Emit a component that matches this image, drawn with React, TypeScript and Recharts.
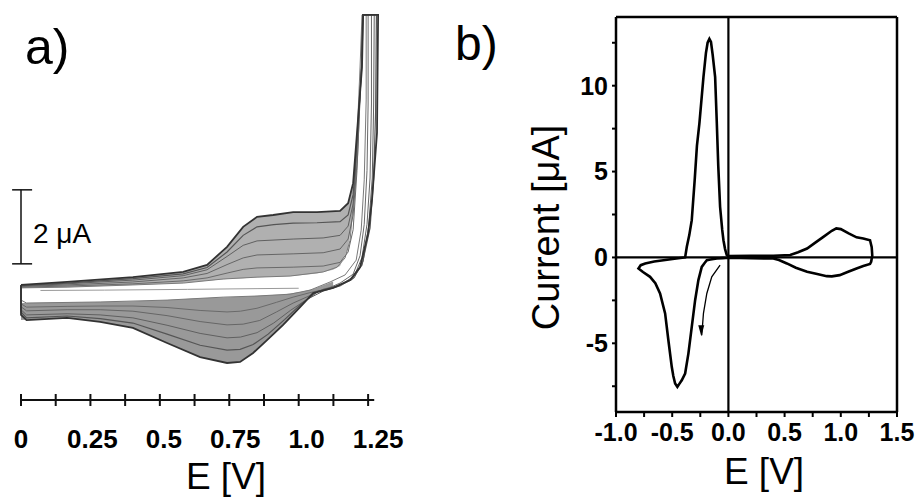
import { ComposedChart, Line, Area, XAxis, YAxis, ReferenceLine } from 'recharts';

const FONT = '"Liberation Sans", Arial, sans-serif';

// ---- panel a: repeated cycles, E [V] vs I [uA] (offset scale, 2 uA bar) ----
// each cycle: anodic sweep 0 -> vertex, then return to 0
const cycle1 = [
  [0, 0.03], [0.166, 0.05], [0.403, 0.11], [0.584, 0.16], [0.728, 0.27], [0.85, 0.32], [0.969, 0.35],
  [1.088, 0.46], [1.138, 0.59], [1.167, 0.84], [1.185, 1.32], [1.203, 2.86], [1.221, 6.0], [1.228, 7.41],
  [1.243, 7.41], [1.243, 5.11], [1.236, 2.95], [1.225, 1.59], [1.207, 0.78], [1.167, 0.38], [1.113, 0.19],
  [1.041, -0.03], [0.969, -0.14], [0.85, -0.19], [0.728, -0.22], [0.526, -0.3], [0.285, -0.35], [0.02, -0.38],
  [0, -0.3], [0, 0.03],
];
const cycle2 = [
  [0, 0.05], [0.166, 0.08], [0.403, 0.14], [0.584, 0.22], [0.67, 0.3], [0.742, 0.43], [0.8, 0.53], [0.85, 0.57],
  [0.98, 0.59], [1.088, 0.62], [1.149, 0.72], [1.178, 1.0], [1.196, 1.6], [1.21, 3.2], [1.225, 6.0], [1.23, 7.41],
  [1.25, 7.41], [1.25, 5.0], [1.246, 3.2], [1.236, 1.75], [1.221, 0.9], [1.196, 0.4], [1.149, 0.16], [1.1, 0.0],
  [1.04, -0.1], [0.98, -0.22], [0.92, -0.36], [0.85, -0.52], [0.79, -0.6], [0.742, -0.62], [0.645, -0.58],
  [0.526, -0.5], [0.403, -0.46], [0.285, -0.46], [0.166, -0.47], [0.02, -0.49], [0, -0.4], [0, 0.05],
];
const cycle3 = [
  [0, 0.07], [0.166, 0.11], [0.403, 0.19], [0.584, 0.3], [0.67, 0.42], [0.742, 0.66], [0.8, 0.84], [0.85, 0.92],
  [0.98, 0.95], [1.088, 0.98], [1.149, 1.08], [1.178, 1.35], [1.196, 2.0], [1.212, 3.6], [1.226, 6.0], [1.231, 7.41],
  [1.262, 7.41], [1.262, 5.0], [1.257, 3.0], [1.246, 1.75], [1.228, 0.85], [1.2, 0.35], [1.149, 0.1], [1.09, 0.0],
  [1.04, -0.18], [0.98, -0.38], [0.92, -0.62], [0.86, -0.85], [0.8, -0.95], [0.742, -0.97], [0.645, -0.88],
  [0.526, -0.72], [0.403, -0.6], [0.285, -0.56], [0.166, -0.56], [0.02, -0.59], [0, -0.48], [0, 0.07],
];
const cycle4 = [
  [0, 0.08], [0.166, 0.14], [0.403, 0.24], [0.584, 0.36], [0.67, 0.52], [0.742, 0.88], [0.8, 1.18], [0.85, 1.3],
  [0.98, 1.35], [1.088, 1.38], [1.149, 1.45], [1.178, 1.7], [1.196, 2.3], [1.21, 3.8], [1.226, 6.0], [1.231, 7.41],
  [1.272, 7.41], [1.27, 5.0], [1.265, 3.0], [1.252, 1.7], [1.232, 0.75], [1.2, 0.3], [1.149, 0.08], [1.09, -0.05],
  [1.03, -0.28], [0.97, -0.58], [0.91, -0.92], [0.85, -1.18], [0.79, -1.3], [0.742, -1.32], [0.645, -1.2],
  [0.526, -0.98], [0.403, -0.78], [0.285, -0.7], [0.166, -0.67], [0.02, -0.7], [0, -0.56], [0, 0.08],
];
const cycle5 = [
  [0, 0.09], [0.166, 0.16], [0.403, 0.28], [0.584, 0.41], [0.67, 0.58], [0.742, 1.0], [0.8, 1.45], [0.85, 1.68],
  [0.91, 1.74], [0.98, 1.78], [1.066, 1.79], [1.149, 1.82], [1.178, 2.0], [1.196, 2.55], [1.21, 4.0], [1.227, 6.0],
  [1.232, 7.41], [1.28, 7.41], [1.277, 4.8], [1.27, 3.0], [1.257, 1.65], [1.228, 0.65], [1.19, 0.25], [1.13, 0.05],
  [1.07, -0.06], [1.01, -0.4], [0.95, -0.82], [0.89, -1.22], [0.836, -1.5], [0.789, -1.63], [0.742, -1.65],
  [0.645, -1.52], [0.526, -1.22], [0.403, -0.92], [0.285, -0.8], [0.166, -0.73], [0.02, -0.78], [0, -0.62],
  [0, 0.09],
];
const cycle6 = [
  [0, 0.11], [0.166, 0.19], [0.403, 0.32], [0.584, 0.46], [0.67, 0.65], [0.742, 1.14], [0.8, 1.68], [0.85, 1.95],
  [0.908, 2.0], [0.98, 2.08], [1.066, 2.08], [1.149, 2.11], [1.178, 2.32], [1.196, 2.86], [1.21, 4.22], [1.228, 6.0],
  [1.232, 7.41], [1.286, 7.41], [1.282, 4.22], [1.264, 2.41], [1.25, 1.51], [1.221, 0.59], [1.185, 0.24],
  [1.124, 0.03], [1.052, -0.11], [1.005, -0.49], [0.944, -0.97], [0.886, -1.38], [0.836, -1.73], [0.789, -1.97],
  [0.742, -2.0], [0.645, -1.84], [0.526, -1.46], [0.403, -1.05], [0.285, -0.89], [0.166, -0.78], [0.02, -0.84],
  [0, -0.7], [0, 0.11],
];
const firstScan = [[0.07, -0.04], [0.3, -0.03], [0.6, -0.01], [0.85, 0.01], [1.0, 0.02]];

// grey bands between first and last cycle: [E, low, high]
const anodicBand = [
  [0, 0.03, 0.11], [0.166, 0.05, 0.19], [0.403, 0.11, 0.32], [0.584, 0.16, 0.46], [0.67, 0.22, 0.65],
  [0.742, 0.27, 1.14], [0.8, 0.29, 1.68], [0.85, 0.32, 1.95], [0.908, 0.33, 2.0], [0.98, 0.35, 2.08],
  [1.066, 0.42, 2.08], [1.124, 0.52, 2.1], [1.149, 0.62, 2.11], [1.178, 1.1, 2.32], [1.196, 2.2, 2.86],
];
const cathodicBand = [
  [0, -0.84, -0.38], [0.166, -0.78, -0.36], [0.285, -0.89, -0.35], [0.403, -1.05, -0.33], [0.526, -1.46, -0.3],
  [0.645, -1.84, -0.25], [0.742, -2.0, -0.22], [0.789, -1.97, -0.21], [0.836, -1.73, -0.19], [0.886, -1.38, -0.17],
  [0.944, -0.97, -0.15], [1.005, -0.49, -0.08], [1.052, -0.11, 0.0], [1.124, 0.03, 0.2],
];

const aTicks = [0, 0.125, 0.25, 0.375, 0.5, 0.625, 0.75, 0.875, 1.0, 1.125, 1.25];
const aTickLabels: Record<string, string> = { '0': '0', '0.25': '0.25', '0.5': '0.5', '0.75': '0.75', '1': '1.0', '1.25': '1.25' };
const scaleBar = { x: 0, from: 0.68, to: 2.68 };

// ---- panel b: single CV, starts at 0 V towards negative potentials ----
const cvLoop = [
  [0.0, -0.02], [-0.05, -0.04], [-0.103, -0.06], [-0.16, -0.12], [-0.192, -0.16], [-0.215, -0.35], [-0.237, -0.55],
  [-0.267, -1.32], [-0.296, -2.49], [-0.326, -4.04], [-0.356, -5.6], [-0.385, -6.76], [-0.415, -7.15],
  [-0.435, -7.35], [-0.454, -7.54], [-0.474, -7.34], [-0.49, -6.9], [-0.504, -6.37], [-0.534, -4.82],
  [-0.563, -3.26], [-0.608, -2.1], [-0.65, -1.5], [-0.697, -1.13], [-0.76, -0.85], [-0.8, -0.64], [-0.78, -0.45],
  [-0.74, -0.35], [-0.66, -0.24], [-0.578, -0.16], [-0.48, -0.08], [-0.385, 0.0], [-0.37, 0.62], [-0.348, 1.3],
  [-0.326, 2.17], [-0.3, 4.5], [-0.28, 6.5], [-0.258, 7.8], [-0.222, 10.5], [-0.2, 11.9], [-0.185, 12.5],
  [-0.169, 12.72], [-0.155, 12.55], [-0.14, 11.8], [-0.118, 10.5], [-0.103, 7.8], [-0.09, 5.3], [-0.074, 2.95],
  [-0.055, 1.6], [-0.044, 1.0], [-0.03, 0.5], [-0.015, 0.14], [0.0, 0.08], [0.2, 0.1], [0.4, 0.1], [0.55, 0.14],
  [0.62, 0.3], [0.7, 0.52], [0.77, 0.85], [0.845, 1.2], [0.92, 1.55], [0.96, 1.69], [1.0, 1.65], [1.07, 1.4],
  [1.14, 1.17], [1.2, 1.1], [1.26, 1.0], [1.275, 0.6], [1.28, 0.1], [1.27, -0.25], [1.26, -0.38], [1.2, -0.5],
  [1.14, -0.64], [1.06, -0.85], [0.99, -1.03], [0.92, -1.1], [0.875, -1.09], [0.78, -0.95], [0.7, -0.83],
  [0.6, -0.6], [0.52, -0.35], [0.45, -0.15], [0.4, -0.06], [0.2, -0.05], [0.0, -0.02],
];
const cvArrow = [[-0.074, -0.45], [-0.148, -1.13], [-0.192, -2.1], [-0.222, -3.26], [-0.237, -4.53]];
const bXTicks = [-1, -0.75, -0.5, -0.25, 0, 0.25, 0.5, 0.75, 1, 1.25, 1.5];
const bYTicks = [-7.5, -5, -2.5, 0, 2.5, 5, 7.5, 10, 12.5];

const pts = (arr: number[][]) => arr.map(([x, y]) => ({ x, y }));
const band = (arr: number[][]) => arr.map(([x, lo, hi]) => ({ x, band: [lo, hi] }));

const RulerTick = (props: any) => {
  const { x, y, payload } = props;
  const label = aTickLabels[String(payload.value)];
  return (
    <g>
      <line x1={x} x2={x} y1={y - 6} y2={y + 6} stroke="#111" strokeWidth={2} />
      {label && (
        <text x={x + payload.value * 8} y={y + 48} textAnchor="middle" fontFamily={FONT} fontWeight="bold" fontSize={26} fill="#000">
          {label}
        </text>
      )}
    </g>
  );
};

const ArrowHead = (props: any) => {
  const { cx, cy, index } = props;
  if (index !== cvArrow.length - 1) return <g key={index} />;
  return <path key={index} d={`M${cx - 3.5},${cy - 10} L${cx + 2.5},${cy - 10} L${cx - 0.5},${cy + 1} Z`} fill="#000" />;
};

const cycleStyles = [
  { data: cycle1, stroke: '#7a7a7a', w: 1 },
  { data: cycle2, stroke: '#6a6a6a', w: 1 },
  { data: cycle3, stroke: '#666', w: 1 },
  { data: cycle4, stroke: '#606060', w: 1 },
  { data: cycle5, stroke: '#555', w: 1.2 },
  { data: cycle6, stroke: '#333', w: 1.8 },
];

function PanelA() {
  return (
    <ComposedChart width={420} height={499} margin={{ top: 11.5, right: 38, bottom: 0, left: 21 }}>
      <XAxis type="number" dataKey="x" domain={[0, 1.3]} ticks={aTicks} interval={0} axisLine={false}
        tickLine={false} tickSize={0} tickMargin={0} height={99} tick={<RulerTick />} />
      <YAxis type="number" domain={[-3, 7.5]} hide />
      <Area data={band(anodicBand)} dataKey="band" type="linear" stroke="none" fill="#b0b0b0" fillOpacity={1} isAnimationActive={false} />
      <Area data={band(cathodicBand)} dataKey="band" type="linear" stroke="none" fill="#999" fillOpacity={1} isAnimationActive={false} />
      {cycleStyles.map((c, i) => (
        <Line key={i} data={pts(c.data)} dataKey="y" type="linear" stroke={c.stroke} strokeWidth={c.w} dot={false} isAnimationActive={false} />
      ))}
      <Line data={pts(firstScan)} dataKey="y" type="linear" stroke="#9a9a9a" strokeWidth={1} dot={false} isAnimationActive={false} />
      <ReferenceLine segment={[{ x: 0, y: -3 }, { x: 1.272, y: -3 }]} stroke="#111" strokeWidth={2} ifOverflow="visible" />
      <ReferenceLine segment={[{ x: scaleBar.x, y: scaleBar.from }, { x: scaleBar.x, y: scaleBar.to }]} stroke="#111" strokeWidth={1.5} ifOverflow="visible" />
      <ReferenceLine segment={[{ x: -0.032, y: scaleBar.from }, { x: 0.04, y: scaleBar.from }]} stroke="#111" strokeWidth={1.5} ifOverflow="visible" />
      <ReferenceLine segment={[{ x: -0.032, y: scaleBar.to }, { x: 0.04, y: scaleBar.to }]} stroke="#111" strokeWidth={1.5} ifOverflow="visible" />
    </ComposedChart>
  );
}

const bTickStyle = { fill: '#000', fontSize: 25, fontWeight: 'bold', fontFamily: FONT };
const half = (v: number) => Math.abs(v * 2 - Math.round(v * 2)) < 1e-9;
const axisStroke = { stroke: '#000', strokeWidth: 2.5 };

function PanelB() {
  return (
    <ComposedChart width={378} height={499} margin={{ top: 17, right: 21, bottom: 47, left: 0 }}>
      <XAxis type="number" dataKey="x" domain={[-1, 1.5]} ticks={bXTicks} interval={0} height={40}
        stroke="#000" strokeWidth={2.5} tickSize={5} tickMargin={6} axisLine={axisStroke}
        tickLine={{ stroke: '#000', strokeWidth: 2 }} tick={bTickStyle}
        tickFormatter={(v: number) => (half(v) ? v.toFixed(1) : '')} />
      <XAxis xAxisId="top" orientation="top" mirror type="number" dataKey="x" domain={[-1, 1.5]} ticks={bXTicks}
        stroke="#000" strokeWidth={2.5} tickLine={false} tickFormatter={() => ''} axisLine={axisStroke} />
      <YAxis type="number" domain={[-9, 14]} ticks={bYTicks} interval={0} width={76} tickSize={4} tickMargin={4}
        stroke="#000" strokeWidth={2.5} axisLine={axisStroke} tickLine={{ stroke: '#000', strokeWidth: 2 }} tick={bTickStyle}
        tickFormatter={(v: number) => (Number.isInteger(v / 5) ? String(v) : '')} />
      <YAxis yAxisId="right" orientation="right" mirror type="number" domain={[-9, 14]} ticks={bYTicks} interval={0}
        stroke="#000" strokeWidth={2.5} tickSize={4} axisLine={axisStroke} tickLine={{ stroke: '#000', strokeWidth: 2 }}
        tickFormatter={() => ''} />
      <ReferenceLine x={0} stroke="#000" strokeWidth={2.2} />
      <ReferenceLine y={0} stroke="#000" strokeWidth={2.2} />
      <Line data={pts(cvLoop)} dataKey="y" type="linear" stroke="#000" strokeWidth={2.6} dot={false} isAnimationActive={false} />
      <Line data={pts(cvArrow)} dataKey="y" type="linear" stroke="#000" strokeWidth={1.3} dot={<ArrowHead />} isAnimationActive={false} />
    </ComposedChart>
  );
}

export default function App() {
  return (
    <div style={{ position: 'absolute', left: 0, top: 0, width: 918, height: 499, background: '#fff', fontFamily: FONT }}>
      <div style={{ position: 'absolute', left: 0, top: 0 }}>
        <PanelA />
      </div>
      <div style={{ position: 'absolute', left: 540, top: 0 }}>
        <PanelB />
      </div>
      <svg width={918} height={499} style={{ position: 'absolute', left: 0, top: 0, pointerEvents: 'none' }}>
        <g fontFamily={FONT} fill="#000">
          <text x={25} y={64} fontSize={50}>a)</text>
          <text x={455} y={60} fontSize={48}>b)</text>
          <text x={33} y={243} fontSize={28}>2 μA</text>
          <text x={226} y={489} fontSize={37} textAnchor="middle">E [V]</text>
          <text x={764} y={484} fontSize={37} textAnchor="middle">E [V]</text>
          <text transform="translate(559,227.5) rotate(-90)" fontSize={38} textAnchor="middle">Current [μA]</text>
        </g>
      </svg>
    </div>
  );
}
